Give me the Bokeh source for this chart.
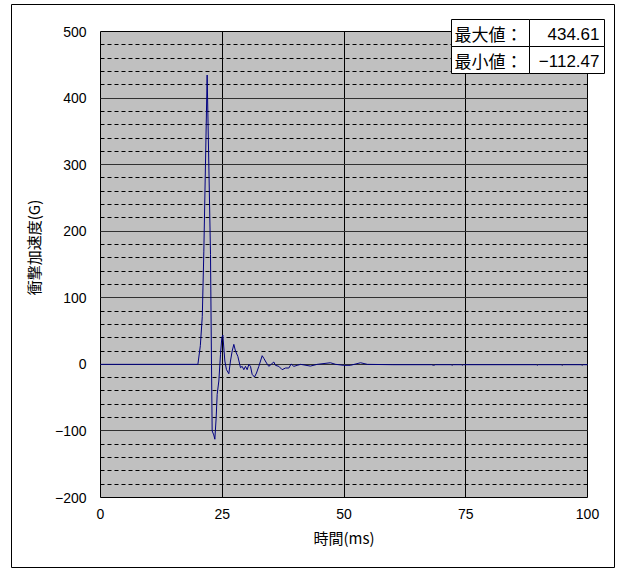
import math

from bokeh.embed import file_html
from bokeh.models import BoxAnnotation, FixedTicker, Label
from bokeh.plotting import figure
from bokeh.resources import INLINE

# Shock acceleration trace: time (ms) and acceleration (G)
t_ms = [0.0, 20.0, 20.5, 20.9, 21.22, 21.9, 22.59, 22.79, 22.93, 23.26, 23.48,
        23.75, 23.96, 24.3, 24.64, 24.91, 25.12, 25.53, 25.87, 26.35, 26.69,
        27.04, 27.38, 27.72, 28.2, 28.75, 29.09, 29.43, 29.77, 30.12, 30.46,
        30.8, 31.14, 31.62, 32.03, 32.51, 33.2, 33.54, 34.09, 34.56, 35.04,
        35.59, 35.93, 36.62, 37.3, 37.99, 38.67, 39.15, 39.7, 40.38, 41.1,
        43.1, 44.5, 47.2, 48.3, 49.96, 51.3, 53.4, 54.8, 60.0, 68.0, 68.4,
        68.8, 72.0, 72.2, 72.4, 74.1, 74.3, 74.5, 89.5, 89.7, 89.9, 94.6,
        94.8, 95.0, 98.7, 98.9, 99.1, 100.0]
accel_g = [0.0, 0.0, 28.0, 72.0, 170.0, 434.61, 165.0, 0.0, -100.0, -106.0,
           -112.47, -80.0, -45.0, -25.0, 15.0, 40.0, 44.0, 5.0, -8.0, -14.0,
           5.0, 20.0, 30.0, 20.0, 12.0, -5.0, -3.0, -8.0, -3.0, -8.0, 0.0,
           -3.0, -15.0, -19.0, -13.0, -3.0, 13.0, 9.0, 2.0, -3.0, 0.0, 3.5,
           -1.5, -3.0, -8.0, -5.5, -5.5, 0.5, -3.0, -1.5, 0.0, -2.6, 0.0, 2.4,
           0.0, -1.5, -1.5, 2.4, 0.0, -0.5, -0.5, -1.5, -0.5, -0.5, -1.5,
           -0.5, -0.5, -1.5, -0.5, -0.5, -1.5, -0.5, -0.5, -1.5, -0.5, -0.5,
           -1.5, -0.5, -0.5]

x_ticks = [0, 25, 50, 75, 100]
y_ticks = [-200, -100, 0, 100, 200, 300, 400, 500]
x_grid = [25, 50, 75]
y_grid = [-100, 0, 100, 200, 300, 400]
y_grid_minor = [v for v in range(-180, 500, 20) if v % 100 != 0]

max_label = "最大値："
min_label = "最小値："
max_value = "434.61"
min_value = "−112.47"

JP = "Noto Sans CJK JP"
NUM = "Liberation Sans"

X0, X1, Y0, Y1 = 0, 100, -200, 500          # plot area in data units

# canvas geometry (pixels): chart border and plot area
W, H = 619, 569
B_L, B_T, B_R, B_B = 11, 4, 614, 567
P_L, P_T, P_R, P_B = 100, 31, 587, 497

kx = (X1 - X0) / (P_R - P_L)
ky = (Y1 - Y0) / (P_B - P_T)
x_range = (X0 - (P_L - B_L) * kx, X1 + (B_R - P_R) * kx)
y_range = (Y0 - (B_B - P_B) * ky, Y1 + (P_T - B_T) * ky)

p = figure(width=W, height=H, x_range=x_range, y_range=y_range,
           output_backend="svg", toolbar_location=None,
           min_border_left=B_L, min_border_right=W - B_R,
           min_border_top=B_T, min_border_bottom=H - B_B)

p.background_fill_color = "white"
p.border_fill_color = "white"
p.outline_line_color = "black"
p.outline_line_width = 1

# plot area
p.add_layout(BoxAnnotation(left=X0, right=X1, bottom=Y0, top=Y1,
                           fill_color="#c0c0c0", fill_alpha=1,
                           line_color="black", line_width=1, line_alpha=1,
                           level="image"))

p.line(t_ms, accel_g, line_color="#000080", line_width=1)

# axes, drawn along the plot area edges
p.xaxis.fixed_location = Y0
p.xaxis.bounds = (X0, X1)
p.yaxis.fixed_location = X0
p.yaxis.bounds = (Y0, Y1)
p.xaxis.ticker = FixedTicker(ticks=x_ticks)
p.yaxis.ticker = FixedTicker(ticks=y_ticks)
for ax in (p.xaxis[0], p.yaxis[0]):
    ax.axis_line_color = None
    ax.major_tick_line_color = None
    ax.minor_tick_line_color = None
    ax.major_tick_out = 0
    ax.major_tick_in = 0
    ax.minor_tick_out = 0
    ax.major_label_text_font = NUM
    ax.major_label_text_font_size = "14px"
    ax.major_label_text_color = "black"
p.yaxis.major_label_standoff = 14
p.xaxis.major_label_standoff = 11

p.xaxis.axis_label = "時間(ms)"
p.xaxis.axis_label_text_font = JP
p.xaxis.axis_label_text_font_style = "normal"
p.xaxis.axis_label_text_font_size = "15px"
p.xaxis.axis_label_text_color = "black"
p.xaxis.axis_label_standoff = 5

# grid
p.xgrid.ticker = FixedTicker(ticks=x_grid)
p.xgrid.cross_bounds = (Y0, Y1)
p.xgrid.grid_line_color = "black"
p.xgrid.grid_line_width = 1
p.ygrid.ticker = FixedTicker(ticks=y_grid, minor_ticks=y_grid_minor)
p.ygrid.cross_bounds = (X0, X1)
p.ygrid.grid_line_color = "#303030"
p.ygrid.grid_line_width = 1
p.ygrid.minor_grid_line_color = "black"
p.ygrid.minor_grid_line_dash = "4 3"
p.ygrid.minor_grid_line_width = 1

# vertical axis title
p.add_layout(Label(x=33, y=247, x_units="canvas", y_units="canvas",
                   text="衝撃加速度(G)", angle=math.pi / 2,
                   text_align="center", text_baseline="middle",
                   text_font=JP, text_font_size="15px", text_color="black"))

# max / min table
cells = [(451, 529, 19, 46), (529, 604, 19, 46),
         (451, 529, 46, 73), (529, 604, 46, 73)]
for l, r, t, b in cells:
    p.add_layout(BoxAnnotation(left=l, right=r, top=t, bottom=b,
                               left_units="canvas", right_units="canvas",
                               top_units="canvas", bottom_units="canvas",
                               fill_color="white", fill_alpha=1,
                               line_color="black", line_width=1,
                               line_alpha=1, level="overlay"))

for text, y in ((max_label, 33), (min_label, 60)):
    p.add_layout(Label(x=454, y=y, x_units="canvas", y_units="canvas",
                       text=text, text_align="left", text_baseline="middle",
                       text_font=JP, text_font_size="17px",
                       text_color="black", level="overlay"))
for text, y in ((max_value, 33), (min_value, 60)):
    p.add_layout(Label(x=599, y=y, x_units="canvas", y_units="canvas",
                       text=text, text_align="right", text_baseline="middle",
                       text_font=NUM, text_font_size="17px",
                       text_color="black", level="overlay"))

open("out.html", "w").write(file_html(p, INLINE))
